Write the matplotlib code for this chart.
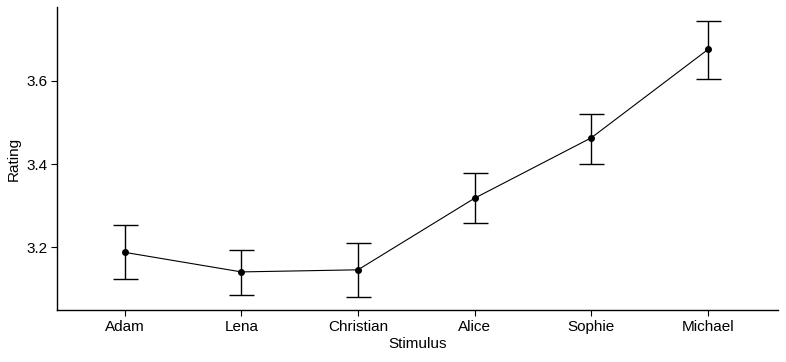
import matplotlib.pyplot as plt

plt.rcParams['font.family'] = ['Liberation Sans', 'DejaVu Sans']

stimuli = ['Adam', 'Lena', 'Christian', 'Alice', 'Sophie', 'Michael']
rating = [3.188, 3.141, 3.146, 3.318, 3.463, 3.675]
upper = [3.253, 3.193, 3.210, 3.378, 3.521, 3.743]
lower = [3.123, 3.085, 3.080, 3.258, 3.399, 3.603]

x = list(range(len(stimuli)))
err_lo = [r - l for r, l in zip(rating, lower)]
err_hi = [u - r for r, u in zip(rating, upper)]

fig = plt.figure(figsize=(7.86, 3.62), dpi=100)
ax = fig.add_axes([0.0725, 0.1436, 0.9173, 0.8371])

ax.plot(x, rating, color='black', linewidth=0.8)
ax.errorbar(x, rating, yerr=[err_lo, err_hi], fmt='o', color='black',
            markersize=4, elinewidth=1, capsize=9, capthick=1)

ax.set_xlim(-0.58, 5.6)
ax.set_ylim(3.0495, 3.777)
ax.set_xticks(x)
ax.set_xticklabels(stimuli)
ax.set_yticks([3.2, 3.4, 3.6])
ax.set_yticklabels(['3.2', '3.4', '3.6'])
ax.tick_params(labelsize=11, length=4, width=0.8, colors='black', pad=3)

for side in ['top', 'right']:
    ax.spines[side].set_visible(False)
for side in ['left', 'bottom']:
    ax.spines[side].set_linewidth(1)

ax.set_xlabel('Stimulus', fontsize=11, labelpad=2)
ax.set_ylabel('Rating', fontsize=11, labelpad=4)

fig.savefig('out.png', dpi=100)
